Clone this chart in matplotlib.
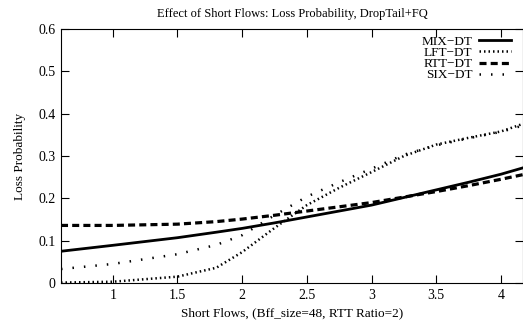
import matplotlib
matplotlib.use('Agg')
import matplotlib.pyplot as plt

plt.rcParams['font.family'] = ['Liberation Serif', 'DejaVu Serif']

# values
x = [0.6, 1.0, 1.5, 1.8, 2.0, 2.25, 2.5, 2.75, 3.0, 3.25, 3.5, 3.75, 4.0, 4.17]
mix_dt = [0.075, 0.089, 0.107, 0.120, 0.129, 0.142, 0.156, 0.170, 0.184, 0.202, 0.220, 0.238, 0.257, 0.272]
lft_dt = [0.001, 0.003, 0.015, 0.036, 0.073, 0.130, 0.184, 0.225, 0.262, 0.300, 0.327, 0.343, 0.358, 0.376]
rtt_dt = [0.136, 0.136, 0.139, 0.145, 0.151, 0.160, 0.170, 0.180, 0.190, 0.203, 0.216, 0.230, 0.245, 0.256]
six_dt = [0.033, 0.045, 0.068, 0.090, 0.113, 0.160, 0.204, 0.238, 0.270, 0.303, 0.325, 0.342, 0.357, 0.372]

xticks = [1, 1.5, 2, 2.5, 3, 3.5, 4]
yticks = [0, 0.1, 0.2, 0.3, 0.4, 0.5, 0.6]

fig = plt.figure(figsize=(5.23, 3.23), dpi=100)
ax = fig.add_axes([61 / 523, 1 - 283 / 323, (523 - 61) / 523, (283 - 29) / 323])

ax.plot(x, mix_dt, color='black', lw=2.0, ls='-', label='MIX\u2212DT')
ax.plot(x, lft_dt, color='black', lw=1.8, ls=(0, (0.6, 1.2)), label='LFT\u2212DT')
ax.plot(x, rtt_dt, color='black', lw=2.3, ls=(0, (2.2, 1.3)), label='RTT\u2212DT')
ax.plot(x, six_dt, color='black', lw=1.8, ls=(0, (0.6, 4.0)), label='SIX\u2212DT')

ax.set_xlim(0.6, 4.17)
ax.set_ylim(0, 0.6)
ax.set_xticks(xticks)
ax.set_xticklabels(['1', '1.5', '2', '2.5', '3', '3.5', '4'])
ax.set_yticks(yticks)
ax.set_yticklabels(['0', '0.1', '0.2', '0.3', '0.4', '0.5', '0.6'])
ax.tick_params(direction='in', length=6, width=0.8, top=True, right=True, labelsize=10, pad=4)

ax.set_title('Effect of Short Flows: Loss Probability, DropTail+FQ', fontsize=9, pad=9)
ax.set_xlabel('Short Flows, (Bff_size=48, RTT Ratio=2)', fontsize=9.5, labelpad=4)
ax.set_ylabel('Loss Probability', fontsize=9.5, labelpad=9)

ax.legend(loc='upper right', frameon=False, markerfirst=False, fontsize=9.5,
          handlelength=2.4, handletextpad=0.5, labelspacing=-0.08,
          borderaxespad=0.0, bbox_to_anchor=(0.985, 0.995))

fig.savefig('out.png', dpi=100)
